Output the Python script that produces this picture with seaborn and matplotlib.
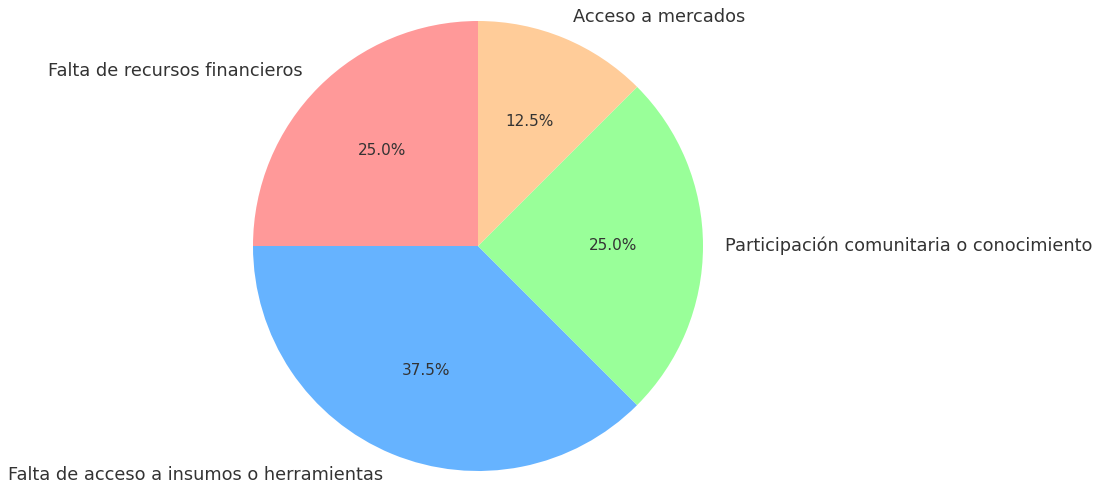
import matplotlib
matplotlib.use("Agg")
import matplotlib.pyplot as plt
import seaborn as sns

# datos del grafico
categorias = ['Falta de recursos financieros',
              'Falta de acceso a insumos o herramientas',
              'Participación comunitaria o conocimiento',
              'Acceso a mercados']
valores = [2, 3, 2, 1]
colores = ['#ff9999', '#66b3ff', '#99ff99', '#ffcc99']

sns.set_theme(style='white')
plt.rcParams['font.family'] = ['DejaVu Sans']

fig = plt.figure(figsize=(10.96, 4.84), dpi=100)
# eje cuadrado centrado donde va el pastel
ax = fig.add_axes([236 / 1096, -4 / 484, 484 / 1096, 1.0])

ax.pie(valores,
       labels=categorias,
       colors=colores,
       autopct='%1.1f%%',
       startangle=90,
       wedgeprops={'linewidth': 0, 'edgecolor': 'none'},
       textprops={'fontsize': 12.8, 'color': '#333333'})

for t in ax.texts:
    if t.get_text().endswith('%'):
        t.set_fontsize(11)

R = 242 / 225
ax.set_xlim(-R, R)
ax.set_ylim(-R, R)
ax.set_aspect('equal')

fig.savefig('out.png', dpi=100)
